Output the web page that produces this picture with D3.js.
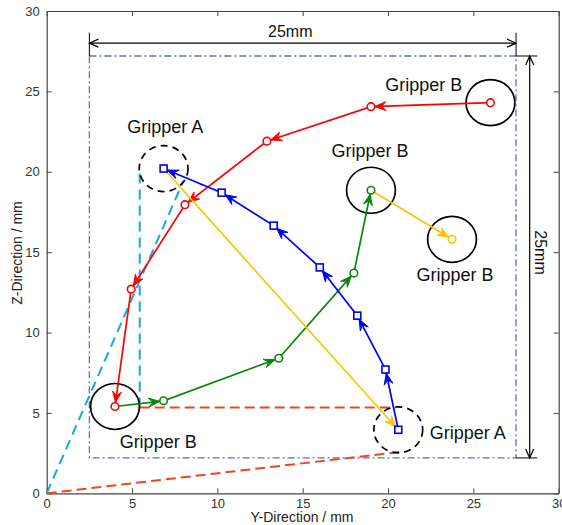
<!DOCTYPE html>
<html lang="en">
<head>
<meta charset="UTF-8">
<title>Gripper paths</title>
<style>
  body { margin: 0; background: #fff; font-family: "Liberation Sans", Arial, sans-serif; }
  .axis path, .axis line { stroke: #444; }
  .axis text { fill: #333; font-size: 13px; font-family: "Liberation Sans", Arial, sans-serif; }
  .lbl { font-size: 18px; fill: #111; }
</style>
</head>
<body>
<svg width="562" height="525"></svg>
<script src="https://d3js.org/d3.v7.min.js"></script>
<script>
// path points (Y-direction, Z-direction), mm
const redY = [26.0, 19.0, 12.9, 8.1, 4.95, 4.0];
const redZ = [24.3, 24.05, 21.9, 17.95, 12.7, 5.4];
const greenY = [4.0, 6.85, 13.6, 18.0, 19.0];
const greenZ = [5.4, 5.75, 8.4, 13.7, 18.85];
const blueY = [20.6, 19.85, 18.2, 16.0, 13.3, 10.25, 6.85];
const blueZ = [3.95, 7.7, 11.05, 14.05, 16.65, 18.7, 20.2];
const yellowY = [[19.0, 23.75], [6.85, 20.6]];
const yellowZ = [[18.85, 15.8], [20.2, 3.95]];

// gripper circles
const gripY = [26.0, 19.0, 23.75, 4.0, 6.85, 20.6];
const gripZ = [24.3, 18.85, 15.8, 5.4, 20.2, 3.95];
const gripDashed = [false, false, false, false, true, true];
const gripR = 1.43;

// labels
const labelText = ["Gripper B", "Gripper A", "Gripper B", "Gripper B", "Gripper B", "Gripper A"];
const labelY = [22.1, 6.95, 18.94, 23.92, 6.53, 24.67];
const labelZ = [25.02, 22.42, 20.93, 13.22, 2.8, 3.38];

// construction lines
const cyanY = [[0, 8.0], [5.45, 5.45]];
const cyanZ = [[0, 19.4], [5.33, 20.2]];
const orangeY = [[0, 20.9], [5.45, 20.45]];
const orangeZ = [[0, 2.6], [5.33, 5.33]];

// workspace box and dimension
const boxY = [2.5, 27.5];
const boxZ = [2.2, 27.2];
const dimText = "25mm";

const ticks = [0, 5, 10, 15, 20, 25, 30];

const svg = d3.select("svg");
const mLeft = 46.7, mRight = 558.7, mTop = 11, mBottom = 493.3;

const x = d3.scaleLinear().domain([0, 30]).range([mLeft, mRight]);
const y = d3.scaleLinear().domain([0, 30]).range([mBottom, mTop]);

// axes (box style, ticks inside)
svg.append("g").attr("class", "axis").attr("transform", `translate(0,${mBottom})`)
  .call(d3.axisBottom(x).tickValues(ticks).tickSizeInner(-5).tickSizeOuter(0).tickPadding(5))
  .call(g => g.select(".domain").attr("stroke-width", 1.2));
svg.append("g").attr("class", "axis").attr("transform", `translate(${mLeft},0)`)
  .call(d3.axisLeft(y).tickValues(ticks).tickSizeInner(-5).tickSizeOuter(0).tickPadding(7))
  .call(g => g.select(".domain").attr("stroke-width", 1.2));
svg.append("g").attr("class", "axis").attr("transform", `translate(0,${mTop})`)
  .call(d3.axisTop(x).tickValues(ticks).tickSizeInner(-5).tickSizeOuter(0).tickFormat(""))
  .call(g => g.select(".domain").attr("stroke-width", 1.2));
svg.append("g").attr("class", "axis").attr("transform", `translate(${mRight},0)`)
  .call(d3.axisRight(y).tickValues(ticks).tickSizeInner(-5).tickSizeOuter(0).tickFormat(""))
  .call(g => g.select(".domain").attr("stroke-width", 1.2));

svg.append("text").attr("x", 302).attr("y", 522).attr("text-anchor", "middle")
  .style("font-size", "14px").attr("fill", "#222").text("Y-Direction / mm");
svg.append("text").attr("transform", "translate(22,253) rotate(-90)").attr("text-anchor", "middle")
  .style("font-size", "14px").attr("fill", "#222").text("Z-Direction / mm");

// workspace box
svg.append("rect")
  .attr("x", x(boxY[0])).attr("y", y(boxZ[1]))
  .attr("width", x(boxY[1]) - x(boxY[0])).attr("height", y(boxZ[0]) - y(boxZ[1]))
  .attr("fill", "none").attr("stroke", "#5f6fc0").attr("stroke-width", 1.3)
  .attr("stroke-dasharray", "7,3,2,3");

function seg(ys, zs, color, dash, w) {
  svg.append("line")
    .attr("x1", x(ys[0])).attr("y1", y(zs[0])).attr("x2", x(ys[1])).attr("y2", y(zs[1]))
    .attr("stroke", color).attr("stroke-width", w).attr("stroke-dasharray", dash);
}
cyanY.forEach((c, i) => seg(c, cyanZ[i], "#1ea6dc", "10,6", 2));
orangeY.forEach((c, i) => seg(c, orangeZ[i], "#f2461c", "10,5", 2));

// dimension lines
function openArrow(px, py, ux, uy) {
  const L = 9, W = 4;
  const nx = -uy, ny = ux;
  svg.append("path")
    .attr("d", `M${px - L * ux + W * nx},${py - L * uy + W * ny}L${px},${py}L${px - L * ux - W * nx},${py - L * uy - W * ny}`)
    .attr("fill", "none").attr("stroke", "#000").attr("stroke-width", 1.2);
}
const dimZ = 28.0, dimY = 28.3;
seg([boxY[0], boxY[1]], [dimZ, dimZ], "#000", null, 1.2);
seg([boxY[0], boxY[0]], [boxZ[1], 28.65], "#000", null, 1);
seg([boxY[1], boxY[1]], [boxZ[1], 28.65], "#000", null, 1);
openArrow(x(boxY[0]), y(dimZ), -1, 0);
openArrow(x(boxY[1]), y(dimZ), 1, 0);
seg([dimY, dimY], [boxZ[0], boxZ[1]], "#000", null, 1.2);
seg([boxY[1], 28.75], [boxZ[1], boxZ[1]], "#000", null, 1);
seg([boxY[1], 28.75], [boxZ[0], boxZ[0]], "#000", null, 1);
openArrow(x(dimY), y(boxZ[1]), 0, -1);
openArrow(x(dimY), y(boxZ[0]), 0, 1);
svg.append("text").attr("x", x(14.27)).attr("y", y(28.36)).attr("text-anchor", "middle")
  .style("font-size", "16px").attr("fill", "#111").text(dimText);
svg.append("text").attr("transform", "translate(535,252.5) rotate(90)").attr("text-anchor", "middle")
  .style("font-size", "16px").attr("fill", "#111").text(dimText);

// gripper circles
gripY.forEach((gy, i) => {
  svg.append("ellipse")
    .attr("cx", x(gy)).attr("cy", y(gripZ[i]))
    .attr("rx", x(gripR) - x(0)).attr("ry", y(0) - y(gripR))
    .attr("fill", "none").attr("stroke", "#000").attr("stroke-width", 1.7)
    .attr("stroke-dasharray", gripDashed[i] ? "7,5" : null);
});

// arrows on paths
function arrowHead(x0, y0, x1, y1, color) {
  const dx = x1 - x0, dy = y1 - y0, len = Math.hypot(dx, dy);
  const ux = dx / len, uy = dy / len, nx = -uy, ny = ux;
  const tx = x1 - 4 * ux, ty = y1 - 4 * uy;
  const L = 11, W = 4.5;
  const p = [
    [tx, ty],
    [tx - L * ux + W * nx, ty - L * uy + W * ny],
    [tx - 0.62 * L * ux, ty - 0.62 * L * uy],
    [tx - L * ux - W * nx, ty - L * uy - W * ny]
  ];
  svg.append("path").attr("d", "M" + p.join("L") + "Z")
    .attr("fill", color).attr("stroke", color).attr("stroke-width", 1).attr("stroke-linejoin", "miter");
}

function path(ys, zs, color) {
  const pts = ys.map((v, i) => [v, zs[i]]);
  svg.append("path").datum(pts)
    .attr("d", d3.line().x(d => x(d[0])).y(d => y(d[1])))
    .attr("fill", "none").attr("stroke", color).attr("stroke-width", 1.7);
  for (let i = 1; i < pts.length; i++) {
    arrowHead(x(pts[i - 1][0]), y(pts[i - 1][1]), x(pts[i][0]), y(pts[i][1]), color);
  }
  return pts;
}

const redPts = path(redY, redZ, "#ff0000");
const greenPts = path(greenY, greenZ, "#0a870a");
const bluePts = path(blueY, blueZ, "#0000ff");
const yellowPts = yellowY.map((c, i) => path(c, yellowZ[i], "#f7c600"));

function circles(pts, color) {
  svg.append("g").selectAll("circle").data(pts).join("circle")
    .attr("cx", d => x(d[0])).attr("cy", d => y(d[1])).attr("r", 3.8)
    .attr("fill", "#fff").attr("stroke", color).attr("stroke-width", 1.6);
}
circles(redPts, "#ff0000");
circles(greenPts.slice(1), "#0a870a");
circles(yellowPts[0].slice(1), "#f7c600");
svg.append("g").selectAll("rect").data(bluePts).join("rect")
  .attr("x", d => x(d[0]) - 3.5).attr("y", d => y(d[1]) - 3.5)
  .attr("width", 7).attr("height", 7)
  .attr("fill", "#fff").attr("stroke", "#0000ff").attr("stroke-width", 1.6);

// labels
svg.append("g").selectAll("text").data(labelText).join("text")
  .attr("class", "lbl")
  .attr("x", (d, i) => x(labelY[i])).attr("y", (d, i) => y(labelZ[i]))
  .attr("text-anchor", "middle").text(d => d);
</script>
</body>
</html>
